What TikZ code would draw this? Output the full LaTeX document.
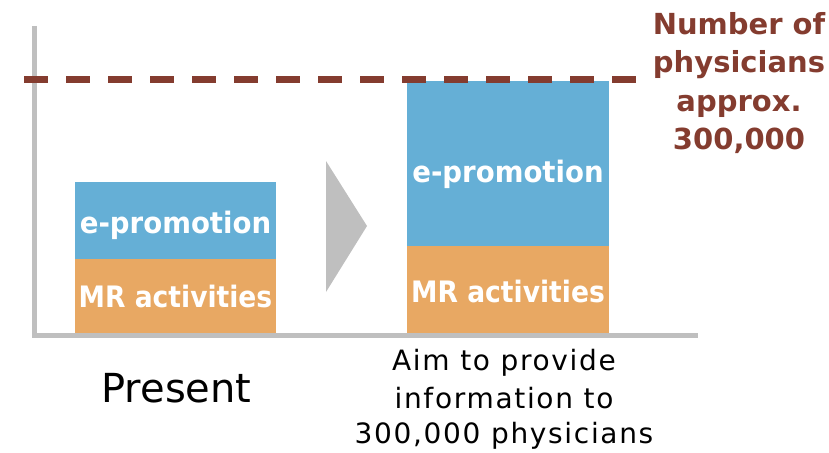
\documentclass[tikz,border=0pt]{standalone}
\usepackage{fontspec}
\setmainfont{DejaVu Sans}
\newfontfamily\widefont[LetterSpace=6]{DejaVu Sans}
\newfontfamily\epfont[FakeStretch=0.935]{DejaVu Sans Bold}
\newfontfamily\mrfont[FakeStretch=0.9]{DejaVu Sans Bold}
\definecolor{barblue}{HTML}{65AFD6}
\definecolor{barorange}{HTML}{E8A863}
\definecolor{linebrown}{HTML}{843C2F}
\definecolor{axisgray}{HTML}{BFBFBF}
\tikzset{
  barlabel/.style={text=white, font=\epfont\fontsize{29.5}{30}\selectfont, anchor=base, inner sep=0pt},
  mrlabel/.style={text=white, font=\mrfont\fontsize{29.5}{30}\selectfont, anchor=base, inner sep=0pt},
  brownlabel/.style={text=linebrown, font=\bfseries\fontsize{29}{30}\selectfont, anchor=base, inner sep=0pt},
  caption/.style={text=black, font=\widefont\fontsize{28}{30}\selectfont, anchor=base, inner sep=0pt},
}
\begin{document}
\begin{tikzpicture}[x=1pt,y=-1pt]
\useasboundingbox (0,0) rectangle (829,452);
% bars
\fill[barblue] (75,182) rectangle (276,259);
\fill[barorange] (75,259) rectangle (276,333);
\fill[barblue] (407,81) rectangle (609,246);
\fill[barorange] (407,246) rectangle (609,333);
% axes
\draw[axisgray, line width=5.6pt, line cap=butt, line join=miter] (34.5,26) |- (698,335.5);
% dashed level line
\draw[linebrown, line width=6.5pt, dash pattern=on 24pt off 18pt] (24,79.3) coordinate (dl) -- (636,79.3) coordinate (dr);
% arrow triangle
\fill[axisgray] (326,161) -- (367,226) -- (326,292) -- cycle;
% bar labels
\node[barlabel] (ep1) at (175.5,233) {e-promotion};
\node[mrlabel] (mr1) at (175.5,307) {MR activities};
\node[barlabel] (ep2) at (508,182) {e-promotion};
\node[mrlabel] (mr2) at (508,302) {MR activities};
% right label
\node[brownlabel] (n1) at (739,35) {Number of};
\node[brownlabel] (n2) at (739,72.5) {physicians};
\node[brownlabel] (n3) at (739,111) {approx.};
\node[brownlabel] (n4) at (739,149.5) {300,000};
% captions
\node[text=black, font=\fontsize{40}{44}\selectfont, anchor=base, inner sep=0pt] (present) at (176.5,402) {Present};
\node[caption] (c1) at (504,370) {Aim to provide};
\node[caption] (c2) at (504,408) {information to};
\node[caption] (c3) at (504,443) {300,000 physicians};
\end{tikzpicture}
\end{document}
